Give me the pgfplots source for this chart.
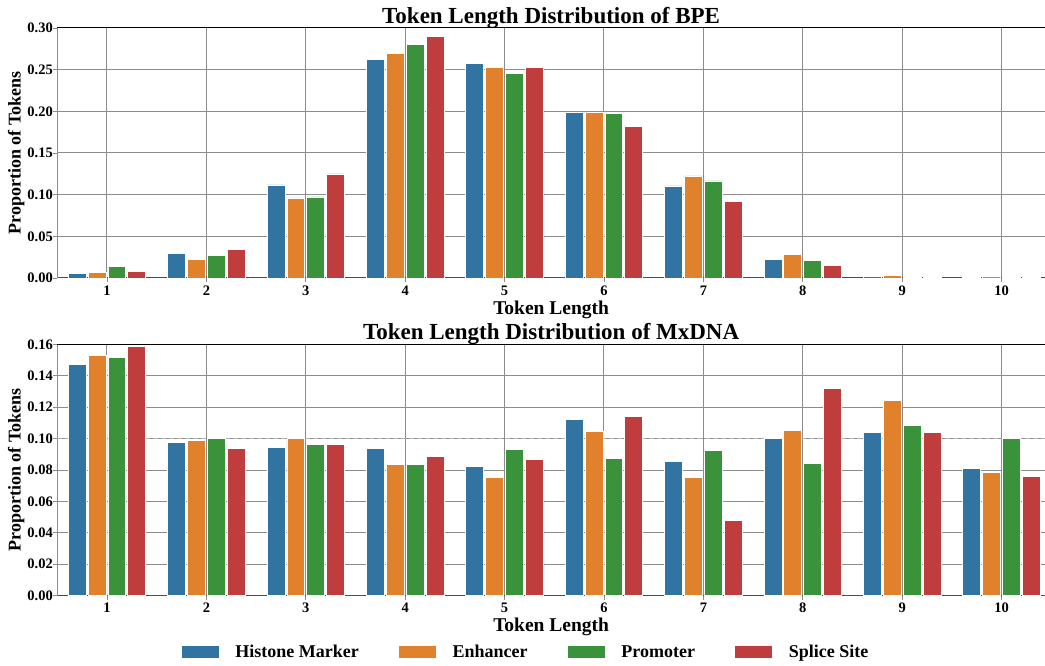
\documentclass[border=0pt]{standalone}
\usepackage{pgfplots}
\pgfplotsset{compat=1.18}
\usepackage{pgfplotstable}
\usepackage{fontspec}
\setmainfont{Liberation Serif}
\definecolor{cHM}{HTML}{3274A1}
\definecolor{cEN}{HTML}{E1812C}
\definecolor{cPR}{HTML}{3A923A}
\definecolor{cSS}{HTML}{C03D3E}
\definecolor{gridc}{HTML}{8C8C8C}

\pgfplotstableread{
x hm en pr ss
1 0.0052 0.0064 0.0136 0.0076
2 0.0290 0.0220 0.0267 0.0340
3 0.1117 0.0961 0.0973 0.1249
4 0.2625 0.2697 0.2805 0.2900
5 0.2577 0.2529 0.2457 0.2529
6 0.1990 0.1990 0.1979 0.1823
7 0.1105 0.1225 0.1165 0.0914
8 0.0219 0.0279 0.0207 0.0148
9 0.0016 0.0028 0.0004 0.0004
10 0.0004 0.0016 0.0004 0.0004
}\bpe

\pgfplotstableread{
x hm en pr ss
1 0.1475 0.1532 0.1519 0.1589
2 0.0977 0.0990 0.0999 0.0939
3 0.0946 0.0999 0.0965 0.0965
4 0.0939 0.0837 0.0837 0.0888
5 0.0824 0.0754 0.0933 0.0869
6 0.1124 0.1048 0.0875 0.1143
7 0.0856 0.0754 0.0926 0.0480
8 0.1003 0.1054 0.0844 0.1322
9 0.1041 0.1245 0.1086 0.1041
10 0.0812 0.0786 0.0999 0.0761
}\mx

\pgfplotsset{
  mystyle/.style={
    scale only axis, width=987.7pt, height=250pt,
    xmin=0.5, xmax=10.437,
    xtick={1,2,3,4,5,6,7,8,9,10},
    axis lines=left,
    axis line style={-, draw=gridc, line width=1pt},
    x axis line style={draw=black!70},
    tick align=outside, major tick length=4pt,
    tick style={draw=gridc, line width=0.8pt},
    grid=major,
    major grid style={draw=gridc, line width=1pt},
    ticklabel style={font=\bfseries\fontsize{14.5}{16}\selectfont},
    /pgf/number format/assume math mode=true,
    yticklabel style={xshift=3pt, /pgf/number format/.cd, fixed, fixed zerofill, precision=2},
    xlabel={Token Length},
    ylabel={Proportion of Tokens},
    xlabel style={font=\bfseries\fontsize{19.5}{22}\selectfont, yshift=1.5pt},
    ylabel style={font=\bfseries\fontsize{18}{21}\selectfont, yshift=-4pt},
    title style={font=\bfseries\fontsize{23}{26}\selectfont, yshift=-10pt},
    ybar, bar width=0.18,
    every axis plot/.append style={draw=white, line width=0.8pt},
    extra description/.code={\draw[black, line width=1pt] (rel axis cs:0,1) -- (rel axis cs:1,1);},
  }
}

\begin{document}
\begin{tikzpicture}
\useasboundingbox (0pt,0pt) rectangle (1045pt,665pt);
\begin{axis}[mystyle, at={(57.3pt,387pt)}, anchor=south west,
  ymin=0, ymax=0.3, ytick={0,0.05,0.1,0.15,0.2,0.25,0.3},
  title={Token Length Distribution of BPE}]
\addplot[fill=cHM, bar shift=-0.3] table[x=x,y=hm]{\bpe};
\addplot[fill=cEN, bar shift=-0.1] table[x=x,y=en]{\bpe};
\addplot[fill=cPR, bar shift=0.1] table[x=x,y=pr]{\bpe};
\addplot[fill=cSS, bar shift=0.3] table[x=x,y=ss]{\bpe};
\end{axis}
\begin{axis}[mystyle, at={(57.3pt,69.5pt)}, anchor=south west, height=251pt,
  ymin=0, ymax=0.16, ytick={0,0.02,0.04,0.06,0.08,0.1,0.12,0.14,0.16},
  title={Token Length Distribution of MxDNA},
  legend columns=4,
  legend style={draw=none, at={(0.474,-0.225)}, anchor=center,
    font=\bfseries\fontsize{18}{21}\selectfont,
    /tikz/every even column/.append style={column sep=37pt},
    /tikz/every odd column/.append style={column sep=14pt}},
  legend image code/.code={\fill[#1] (0pt,-6.5pt) rectangle (38pt,6.5pt);}]
\addplot[sharp plot, forget plot, draw=gray!60, dashed, dash pattern=on 5pt off 3pt, line width=1.2pt] coordinates {(0.5,0.1) (10.437,0.1)};
\addplot[fill=cHM, bar shift=-0.3] table[x=x,y=hm]{\mx};
\addlegendentry{Histone Marker}
\addplot[fill=cEN, bar shift=-0.1] table[x=x,y=en]{\mx};
\addlegendentry{Enhancer}
\addplot[fill=cPR, bar shift=0.1] table[x=x,y=pr]{\mx};
\addlegendentry{Promoter}
\addplot[fill=cSS, bar shift=0.3] table[x=x,y=ss]{\mx};
\addlegendentry{Splice Site}
\end{axis}
\end{tikzpicture}
\end{document}
